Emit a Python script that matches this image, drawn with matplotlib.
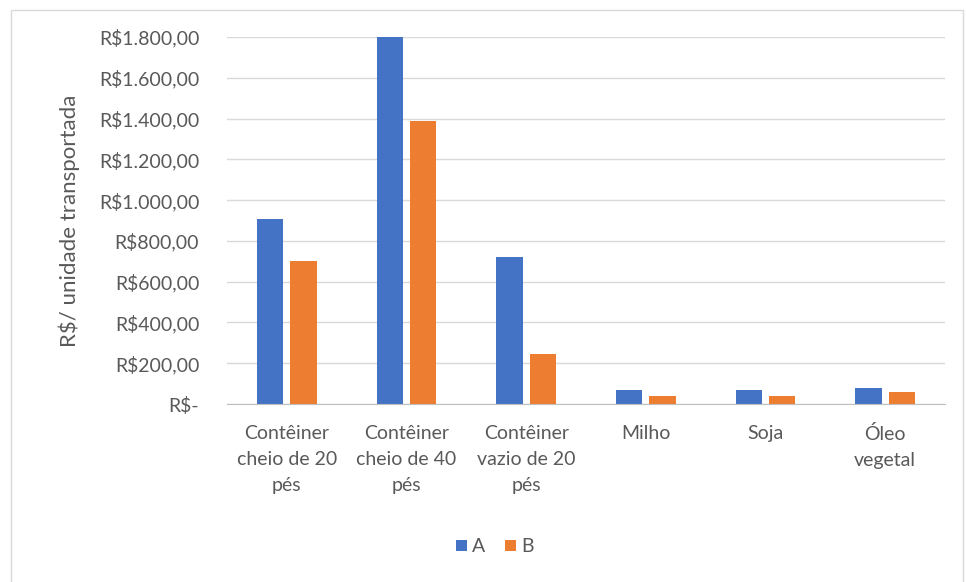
import matplotlib
matplotlib.use("Agg")
import matplotlib.pyplot as plt
from matplotlib.patches import Rectangle
import numpy as np

categories = ["Contêiner\ncheio de 20\npés", "Contêiner\ncheio de 40\npés",
              "Contêiner\nvazio de 20\npés", "Milho", "Soja", "Óleo\nvegetal"]
series_a = [905, 1800, 720, 69, 69, 77]
series_b = [700, 1390, 247, 39, 39, 57]
series_names = ["A", "B"]
y_ticks = [0, 200, 400, 600, 800, 1000, 1200, 1400, 1600, 1800]
y_tick_labels = ["R$-", "R$200,00", "R$400,00", "R$600,00", "R$800,00",
                 "R$1.000,00", "R$1.200,00", "R$1.400,00", "R$1.600,00", "R$1.800,00"]
y_label = "R$/ unidade transportada"

W, H = 966, 582
BLUE = "#4472C4"
ORANGE = "#ED7D31"
TEXT = "#595959"
GRID = "#D9D9D9"

plt.rcParams["font.family"] = ["Lato", "DejaVu Sans"]

fig = plt.figure(figsize=(W / 100, H / 100), dpi=100)
fig.patch.set_facecolor("white")

# chart frame
fig.patches.append(Rectangle((11 / W, -0.05), (963 - 11) / W, 1 - 10 / H + 0.05,
                             transform=fig.transFigure, fill=False,
                             edgecolor=GRID, linewidth=1.0))

left, right, top, bottom = 227, 945, 37, 404
ax = fig.add_axes([left / W, 1 - bottom / H, (right - left) / W, (bottom - top) / H])

x = np.arange(len(categories))
width = 0.22
offset = 0.138
ax.bar(x - offset, series_a, width, color=BLUE, label=series_names[0], zorder=3)
ax.bar(x + offset, series_b, width, color=ORANGE, label=series_names[1], zorder=3)

ax.set_xlim(-0.5, len(categories) - 0.5)
ax.set_ylim(0, 1800)
ax.set_yticks(y_ticks)
ax.set_yticklabels(y_tick_labels)
ax.set_xticks(x)
ax.set_xticklabels(categories, linespacing=1.65)

ax.grid(axis="y", color=GRID, linewidth=1.0, zorder=0)
for s in ["top", "right", "left"]:
    ax.spines[s].set_visible(False)
ax.spines["bottom"].set_color("#BFBFBF")
ax.spines["bottom"].set_zorder(4)

ax.tick_params(axis="both", length=0, colors=TEXT, labelsize=14)
ax.tick_params(axis="y", pad=20)
ax.tick_params(axis="x", pad=15)

ax.set_ylabel(y_label, color=TEXT, fontsize=16)
ax.yaxis.set_label_coords((80 - left) / (right - left), 0.5)

leg = fig.legend(loc="center", bbox_to_anchor=(495 / W, 1 - 547 / H), ncol=2,
                 frameon=False, fontsize=14, handlelength=0.55, handleheight=0.55,
                 handletextpad=0.3, columnspacing=1.0, labelcolor=TEXT)

fig.savefig("out.png", dpi=100, facecolor="white")
